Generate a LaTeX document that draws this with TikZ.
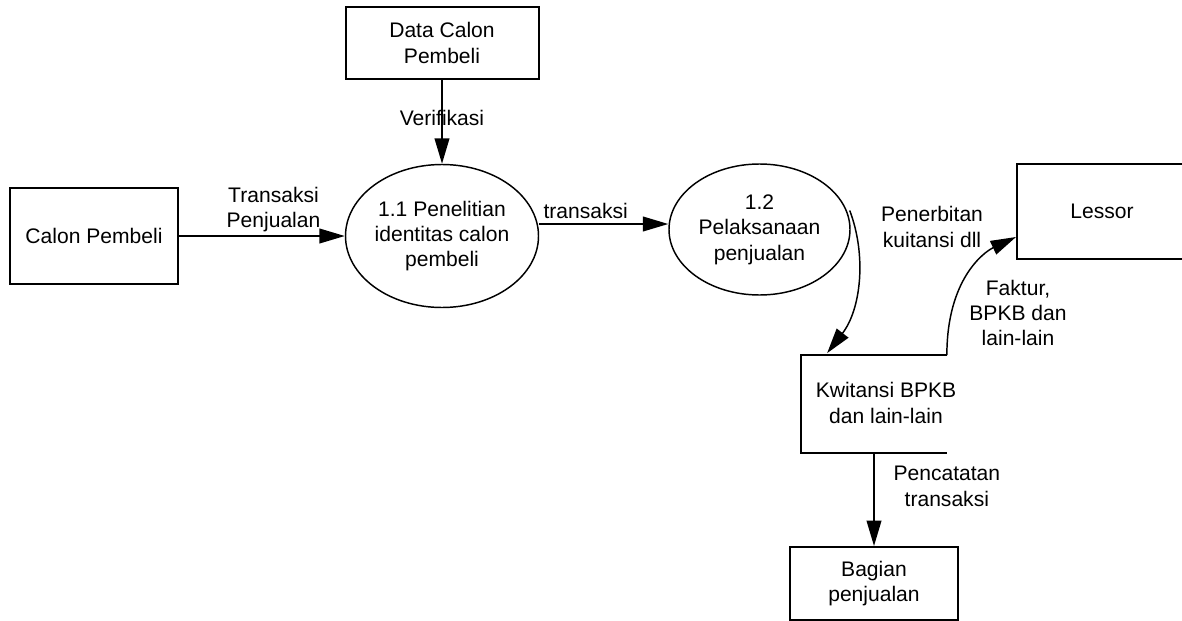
\documentclass[tikz,border=0pt]{standalone}
\usepackage{fontspec}
\setmainfont{Liberation Sans}
\usetikzlibrary{arrows.meta,shapes.geometric}

\begin{document}
\begin{tikzpicture}[x=0.75pt, y=-0.75pt, >={Triangle[length=19pt, width=11pt]}, line width=1.3pt, font=\fontsize{15.8}{19}\selectfont, every node/.append style={align=center}, entity/.style={rectangle, draw, line width=1.5pt, inner sep=0pt}, proc/.style={ellipse, draw, line width=1.1pt, inner sep=0pt}, store/.style={rectangle, inner sep=0pt, minimum width=108pt, minimum height=72pt}, lbl/.style={inner sep=1pt}]
		\useasboundingbox (0,0) rectangle (1182,621);
		\node[entity, minimum width=144.75pt, minimum height=54pt] (data) at (442,43) {Data Calon\\Pembeli};
		\node[entity, minimum width=126pt, minimum height=72pt] (calon) at (94,236) {Calon Pembeli};
		\node[proc, minimum width=144.75pt, minimum height=107.25pt] (p11) at (442,236) {1.1 Penelitian\\identitas calon\\pembeli};
		\node[proc, minimum width=135.75pt, minimum height=98.25pt] (p12) at (759.5,229.5) {1.2\\Pelaksanaan\\penjualan};
		\node[entity, minimum width=127.5pt, minimum height=71.25pt] (lessor) at (1102,211.5) {Lessor};
		\node[store] (kwitansi) at (874,404) {};
		\node (kwitansitext) at (886,403) {Kwitansi BPKB\\dan lain-lain};
		\node[entity, minimum width=126pt, minimum height=54.75pt] (bagian) at (874,583.5) {Bagian\\penjualan};
		\draw[line width=1.5pt] (kwitansi.north east) -- (kwitansi.north west) -- (kwitansi.south west) -- (kwitansi.south east);
		\draw[->] (data) -- node[lbl, pos=0.45] {Verifikasi} (p11);
		\draw[->] (calon) -- node[lbl, above=1.5pt, pos=0.57] {Transaksi\\Penjualan} (p11);
		\draw[->] ([shift={(0,-12)}]p11.east) -- node[lbl, above=2.4pt, pos=0.36] {transaksi} ([shift={(0,-5.5)}]p12.west);
		\draw[->, line width=1.1pt] ([shift={(-1,-19)}]p12.east) .. controls +(17,45) and +(34,-44) .. ([shift={(26,-2)}]kwitansi.north west);
		\draw[->, line width=1.1pt] (kwitansi.north east) .. controls +(0,-76) and +(-32,15) .. ([shift={(0,25.5)}]lessor.west);
		\node (penerbitan) at (932,227) {Penerbitan\\kuitansi dll};
		\node (faktur) at (1018,313) {Faktur,\\BPKB dan\\lain-lain};
		\draw[->] (kwitansi) -- node[lbl, right=13pt, pos=0.36] {Pencatatan\\transaksi} (bagian);
\end{tikzpicture}
\end{document}
